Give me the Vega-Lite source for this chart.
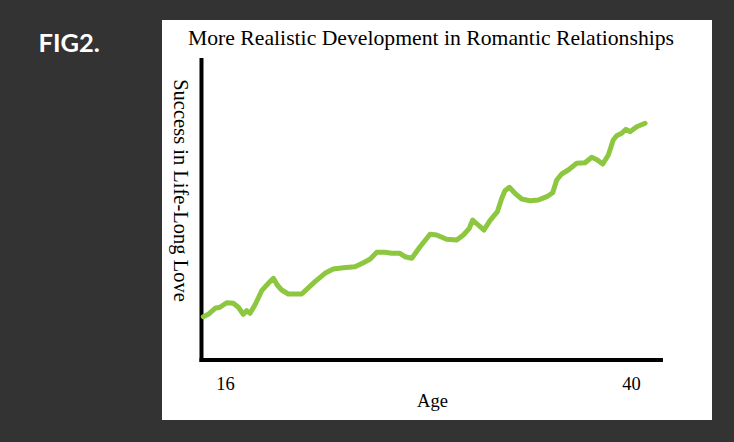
{
  "$schema": "https://vega.github.io/schema/vega-lite/v6.json",
  "width": 550,
  "height": 400,
  "autosize": {"type": "none"},
  "padding": {"left": 162, "top": 20, "right": 22, "bottom": 22},
  "background": "#333333",
  "view": {"fill": "white", "stroke": null},
  "title": {
    "text": "More Realistic Development in Romantic Relationships",
    "anchor": "middle",
    "frame": "group",
    "orient": "top",
    "offset": 0,
    "dy": 30,
    "dx": -6,
    "font": "Liberation Serif",
    "fontSize": 21.7,
    "fontWeight": "normal",
    "color": "black"
  },
  "resolve": {"axis": {"x": "independent", "y": "independent"}},
  "layer": [
    {
      "data": {"values": [
        {"x": 14.61, "x2": 14.61, "y": -2, "y2": 298},
        {"x": 14.61, "x2": 41.77, "y": -2, "y2": -2}
      ]},
      "mark": {"type": "rule", "color": "black", "strokeWidth": 4, "strokeCap": "square"},
      "encoding": {
        "x": {"field": "x", "type": "quantitative", "scale": {"domain": [12.276, 44.788], "nice": false, "zero": false},
          "axis": {"orient": "top", "title": "FIG2.", "labels": false, "ticks": false, "domain": false, "grid": false,
            "titleX": -124, "titleY": 31, "titleAlign": "left", "titleAnchor": null, "titleBaseline": "alphabetic",
            "titleColor": "white", "titleFont": "Lato", "titleFontSize": 25.5, "titleFontWeight": "bold"}},
        "x2": {"field": "x2"},
        "y": {"field": "y", "type": "quantitative", "scale": {"domain": [-62, 338], "nice": false, "zero": false}, "axis": null},
        "y2": {"field": "y2"}
      }
    },
    {
      "data": {"values": [
        {"age": 14.72, "v": 41.3}, {"age": 15.01, "v": 43.7}, {"age": 15.41, "v": 49.7}, {"age": 15.70, "v": 50.7},
        {"age": 16.10, "v": 55.3}, {"age": 16.49, "v": 54.7}, {"age": 16.79, "v": 50.7}, {"age": 17.08, "v": 43.7},
        {"age": 17.28, "v": 47.3}, {"age": 17.48, "v": 44.7}, {"age": 17.77, "v": 53.0}, {"age": 18.17, "v": 67.3},
        {"age": 18.56, "v": 74.7}, {"age": 18.86, "v": 79.7}, {"age": 19.09, "v": 73.0}, {"age": 19.35, "v": 68.0},
        {"age": 19.74, "v": 64.0}, {"age": 20.53, "v": 64.0}, {"age": 20.83, "v": 68.7}, {"age": 21.32, "v": 76.3},
        {"age": 21.91, "v": 84.7}, {"age": 22.40, "v": 89.0}, {"age": 22.99, "v": 90.3}, {"age": 23.68, "v": 91.3},
        {"age": 24.18, "v": 95.3}, {"age": 24.57, "v": 98.7}, {"age": 24.97, "v": 105.7}, {"age": 25.46, "v": 105.7},
        {"age": 25.85, "v": 104.7}, {"age": 26.34, "v": 104.7}, {"age": 26.64, "v": 101.3}, {"age": 27.04, "v": 99.7},
        {"age": 27.53, "v": 111.3}, {"age": 28.12, "v": 123.7}, {"age": 28.51, "v": 123.0}, {"age": 29.10, "v": 118.7},
        {"age": 29.70, "v": 118.0}, {"age": 30.09, "v": 123.0}, {"age": 30.44, "v": 129.7}, {"age": 30.64, "v": 138.0},
        {"age": 30.97, "v": 133.0}, {"age": 31.31, "v": 128.0}, {"age": 31.66, "v": 137.3}, {"age": 32.10, "v": 146.3},
        {"age": 32.36, "v": 159.7}, {"age": 32.55, "v": 167.3}, {"age": 32.81, "v": 170.7}, {"age": 33.14, "v": 164.7},
        {"age": 33.54, "v": 159.0}, {"age": 34.03, "v": 157.3}, {"age": 34.52, "v": 158.0}, {"age": 35.02, "v": 161.3},
        {"age": 35.37, "v": 165.3}, {"age": 35.61, "v": 178.0}, {"age": 35.90, "v": 184.0}, {"age": 36.29, "v": 188.0},
        {"age": 36.79, "v": 194.7}, {"age": 37.28, "v": 195.3}, {"age": 37.68, "v": 200.7}, {"age": 38.01, "v": 198.0},
        {"age": 38.33, "v": 194.0}, {"age": 38.66, "v": 203.0}, {"age": 38.95, "v": 218.0}, {"age": 39.15, "v": 222.3},
        {"age": 39.45, "v": 224.7}, {"age": 39.70, "v": 228.7}, {"age": 39.94, "v": 226.3}, {"age": 40.34, "v": 231.3},
        {"age": 40.83, "v": 234.7}
      ]},
      "mark": {"type": "line", "color": "#8dc63f", "strokeWidth": 5, "strokeCap": "round", "strokeJoin": "round"},
      "encoding": {
        "x": {"field": "age", "type": "quantitative", "scale": {"domain": [12.276, 44.788], "nice": false, "zero": false},
          "axis": {"orient": "bottom", "values": [16, 40], "offset": -46, "domain": false, "ticks": false, "grid": false,
            "labelPadding": 0, "labelBaseline": "top", "labelFont": "Liberation Serif", "labelFontSize": 18.5, "labelColor": "black",
            "title": "Age", "titleX": 270, "titleY": 32, "titleAlign": "center", "titleAnchor": null, "titleBaseline": "alphabetic",
            "titleFont": "Liberation Serif", "titleFontSize": 18.5, "titleFontWeight": "normal", "titleColor": "black"}},
        "y": {"field": "v", "type": "quantitative", "scale": {"domain": [-62, 338], "nice": false, "zero": false},
          "axis": {"title": "Success in Life-Long Love", "labels": false, "ticks": false, "domain": false, "grid": false,
            "titleAngle": 90, "titleX": 17, "titleY": 170, "titleAlign": "center", "titleAnchor": null, "titleBaseline": "middle",
            "titleFont": "Liberation Serif", "titleFontSize": 20.5, "titleFontWeight": "normal", "titleColor": "black"}}
      }
    }
  ]
}
